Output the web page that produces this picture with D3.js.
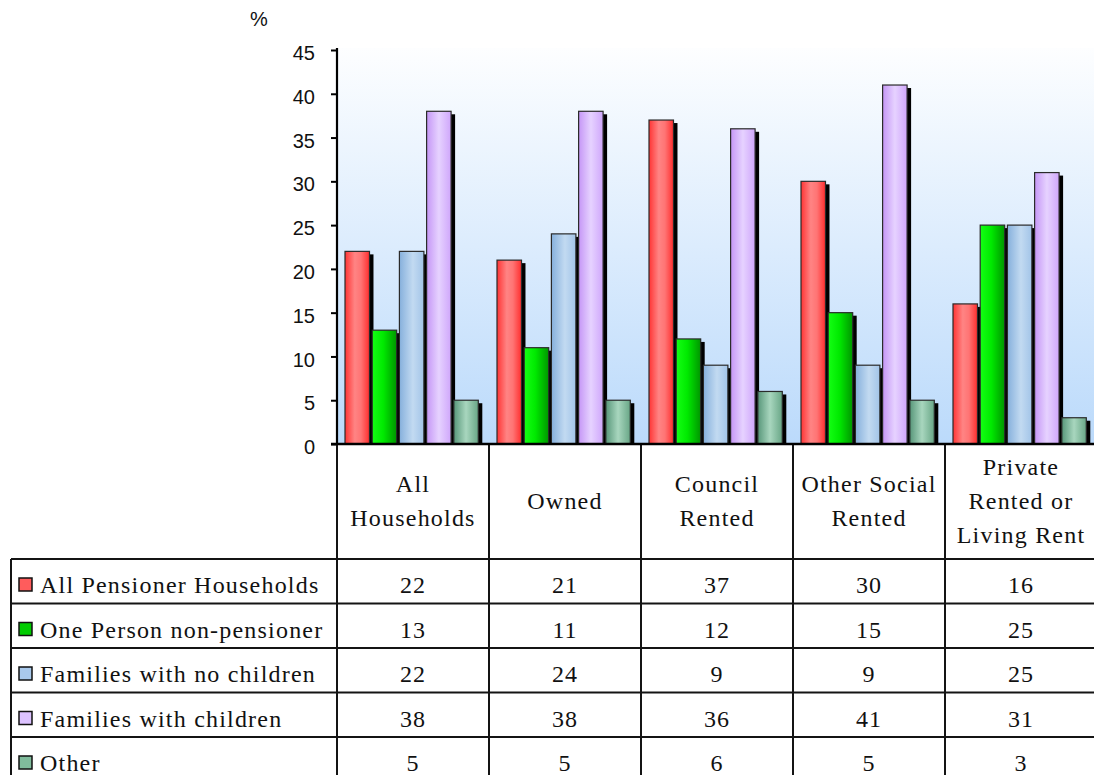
<!DOCTYPE html>
<html>
<head>
<meta charset="utf-8">
<script src="https://cdn.jsdelivr.net/npm/d3@7"></script>
<style>
  html, body { margin: 0; padding: 0; background: #fff; overflow: hidden; }
  svg { display: block; }
  .serif { font-family: "Liberation Serif", "Times New Roman", Times, "Nimbus Roman", "Nimbus Roman No9 L", FreeSerif, "DejaVu Serif", "Noto Serif", Tinos, Georgia, serif; }
  .sans { font-family: "Liberation Sans", Arial, sans-serif; }
</style>
</head>
<body>
<svg id="chart" width="1094" height="775"></svg>
<script>
// Household type by tenure (%)
const categories = ["All\nHouseholds", "Owned", "Council\nRented", "Other Social\nRented", "Private\nRented or\nLiving Rent"];
const seriesNames = ["All Pensioner Households", "One Person non-pensioner", "Families with no children", "Families with children", "Other"];
const allPensioner   = [22, 21, 37, 30, 16];
const onePerson      = [13, 11, 12, 15, 25];
const noChildren     = [22, 24, 9, 9, 25];
const withChildren   = [38, 38, 36, 41, 31];
const otherHouseholds = [5, 5, 6, 5, 3];
const seriesValues = [allPensioner, onePerson, noChildren, withChildren, otherHouseholds];
const yTicks = [0, 5, 10, 15, 20, 25, 30, 35, 40, 45];

// bar fills: horizontal shading stops per series, plus flat swatch colours
const barStops = [
  [["0%", "#ff3434"], ["40%", "#ff8484"], ["65%", "#ff7474"], ["100%", "#ff2e2e"]],
  [["0%", "#14ff14"], ["45%", "#00ea00"], ["100%", "#009600"]],
  [["0%", "#86b0dc"], ["55%", "#c2daf1"], ["100%", "#a2c4e8"]],
  [["0%", "#c596f6"], ["50%", "#e6d2ff"], ["100%", "#cfa6fb"]],
  [["0%", "#58977a"], ["50%", "#a8d6be"], ["100%", "#68a686"]]
];
const swatchColors = ["#ff5c5c", "#00cc00", "#a9c9ec", "#dcc2ff", "#80bc9c"];

const svg = d3.select("#chart");
const W = 1094, H = 775;

const plot = { left: 337, top: 48, bottom: 444 };
const colStep = 152;
const tableTop = 559;
const rowH = 44.5;
const tableLeft = 11;

const x = d3.scaleBand().domain(d3.range(categories.length))
  .range([plot.left, plot.left + colStep * categories.length]).padding(0);
const xs = d3.scaleBand().domain(d3.range(seriesNames.length))
  .range([8, 141.3]).paddingInner(0.1).paddingOuter(0);
const y = d3.scaleLinear().domain([0, 45]).range([plot.bottom, 50]);

const defs = svg.append("defs");
const bgGrad = defs.append("linearGradient").attr("id", "plotBg")
  .attr("x1", 0).attr("y1", 0).attr("x2", 0).attr("y2", 1);
bgGrad.append("stop").attr("offset", "0%").attr("stop-color", "#fdfeff");
bgGrad.append("stop").attr("offset", "100%").attr("stop-color", "#bbdafb");

barStops.forEach((stops, i) => {
  const g = defs.append("linearGradient").attr("id", "bar" + i)
    .attr("x1", 0).attr("y1", 0).attr("x2", 1).attr("y2", 0);
  stops.forEach(s => g.append("stop").attr("offset", s[0]).attr("stop-color", s[1]));
});
defs.append("clipPath").attr("id", "plotClip").append("rect")
  .attr("x", plot.left).attr("y", 0).attr("width", W - plot.left).attr("height", plot.bottom);

// plot background
svg.append("rect").attr("x", plot.left).attr("y", plot.top)
  .attr("width", W - plot.left).attr("height", plot.bottom - plot.top)
  .attr("fill", "url(#plotBg)");

// bars with drop shadows
const barsG = svg.append("g").attr("clip-path", "url(#plotClip)");
const flat = [];
seriesValues.forEach((vals, s) => vals.forEach((v, c) => flat.push({ s, c, v })));

barsG.selectAll("rect.shadow").data(flat).join("rect")
  .attr("class", "shadow")
  .attr("x", d => x(d.c) + xs(d.s) + 4)
  .attr("y", d => y(d.v) + 3)
  .attr("width", xs.bandwidth())
  .attr("height", d => y(0) - y(d.v))
  .attr("fill", "#000");

barsG.selectAll("rect.bar").data(flat).join("rect")
  .attr("class", "bar")
  .attr("x", d => x(d.c) + xs(d.s))
  .attr("y", d => y(d.v))
  .attr("width", xs.bandwidth())
  .attr("height", d => y(0) - y(d.v))
  .attr("fill", d => `url(#bar${d.s})`)
  .attr("stroke", "#2a2a2a")
  .attr("stroke-width", 1.2);

// value axis
const yAxis = d3.axisLeft(y).tickValues(yTicks).tickSize(6).tickPadding(16);
const yAxisG = svg.append("g").attr("transform", `translate(${plot.left},0)`).call(yAxis);
yAxisG.attr("font-family", null).attr("font-size", null);
yAxisG.select(".domain").remove();
yAxisG.selectAll(".tick line").attr("stroke", "#000").attr("stroke-width", 2);
yAxisG.selectAll(".tick text")
  .attr("class", "sans")
  .style("font-size", "20px").attr("fill", "#111")
  .attr("dy", "0.48em");
svg.append("line").attr("x1", plot.left).attr("x2", plot.left)
  .attr("y1", 48).attr("y2", plot.bottom + 1)
  .attr("stroke", "#000").attr("stroke-width", 2.2);

svg.append("text").attr("class", "sans").attr("x", 250).attr("y", 26)
  .style("font-size", "20px").attr("fill", "#111").text("%");

// data table below the axis
const tableG = svg.append("g");
const rowTops = seriesNames.map((_, i) => tableTop + i * rowH);
const textSize = "24px";

// header labels
categories.forEach((cat, c) => {
  const lines = cat.split("\n");
  const t = tableG.append("text").attr("class", "serif")
    .attr("text-anchor", "middle")
    .style("font-size", textSize)
    .style("letter-spacing", "1.2px").attr("fill", "#111");
  lines.forEach((ln, i) => {
    t.append("tspan")
      .attr("x", x(c) + colStep / 2)
      .attr("y", 509 + (i - (lines.length - 1) / 2) * 34)
      .text(ln);
  });
});

// legend column and value cells
seriesNames.forEach((name, s) => {
  const top = rowTops[s];
  tableG.append("rect")
    .attr("x", 19).attr("y", top + 19)
    .attr("width", 13).attr("height", 13)
    .attr("fill", swatchColors[s]).attr("stroke", "#111").attr("stroke-width", 1.5);
  tableG.append("text").attr("class", "serif")
    .attr("x", 40).attr("y", top + 34)
    .style("font-size", textSize)
    .style("letter-spacing", "1.2px").attr("fill", "#111")
    .text(name);
  seriesValues[s].forEach((v, c) => {
    tableG.append("text").attr("class", "serif")
      .attr("x", x(c) + colStep / 2).attr("y", top + 34)
      .attr("text-anchor", "middle")
      .style("font-size", textSize)
      .style("letter-spacing", "1px").attr("fill", "#111")
      .text(v);
  });
});

// table grid
const gridG = tableG.append("g").attr("stroke", "#141414").attr("stroke-width", 2);
rowTops.forEach(t => {
  gridG.append("line").attr("x1", tableLeft).attr("x2", W).attr("y1", t).attr("y2", t);
});
gridG.append("line").attr("x1", tableLeft).attr("x2", tableLeft).attr("y1", tableTop).attr("y2", H);
d3.range(categories.length + 1).forEach(c => {
  const xx = plot.left + c * colStep;
  gridG.append("line").attr("x1", xx).attr("x2", xx).attr("y1", plot.bottom).attr("y2", H);
});

// category axis line
svg.append("line").attr("x1", plot.left - 6).attr("x2", W)
  .attr("y1", plot.bottom).attr("y2", plot.bottom)
  .attr("stroke", "#000").attr("stroke-width", 2.4);
</script>
</body>
</html>
